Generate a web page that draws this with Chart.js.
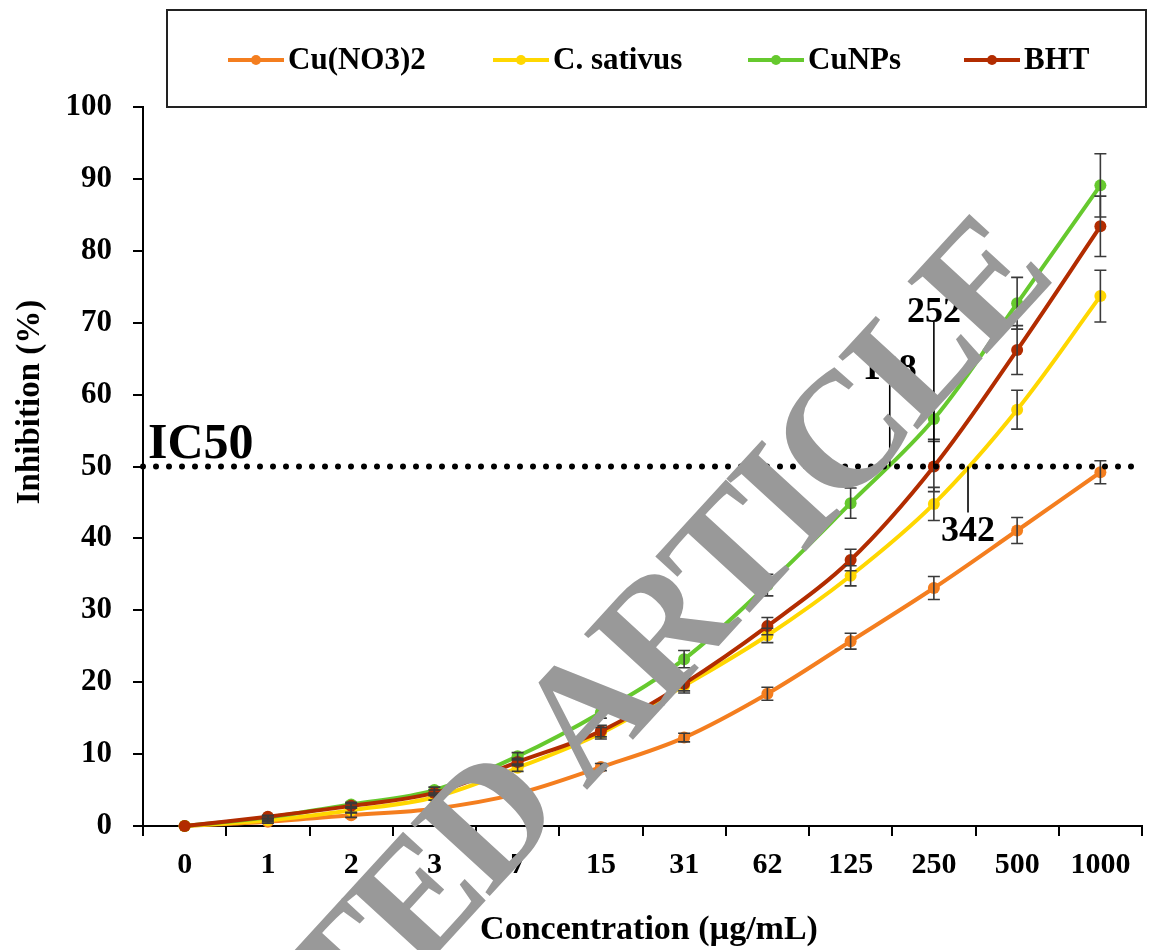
<!DOCTYPE html>
<html><head><meta charset="utf-8">
<script src="https://cdn.jsdelivr.net/npm/chart.js@4.4.1/dist/chart.umd.min.js"></script>
<style>html,body{margin:0;padding:0;background:#fff;}#wrap{width:1151px;height:950px;}</style>
</head><body><div id="wrap"><canvas id="c" width="1151" height="950"></canvas></div>
<script>
// ---- data ----
const concentrations = ['0','1','2','3','7','15','31','62','125','250','500','1000'];
const seriesNames = ['Cu(NO3)2','C. sativus','CuNPs','BHT'];
const cuNO3      = [0, 0.6, 1.5, 2.4, 4.5, 8.2, 12.3, 18.4, 25.7, 33.1, 41.1, 49.2];
const cuNO3Err   = [0, 0.2, 0.3, 0.3, 0.4, 0.5, 0.6, 0.9, 1.1, 1.6, 1.8, 1.6];
const cSativus   = [0, 0.8, 2.2, 4.0, 8.1, 12.9, 19.5, 26.5, 34.8, 44.8, 57.9, 73.7];
const cSativusErr= [0, 0.2, 0.3, 0.4, 0.5, 0.8, 1.0, 1.0, 1.4, 2.3, 2.7, 3.6];
const cuNPs      = [0, 1.2, 3.0, 5.0, 9.7, 15.8, 23.2, 33.5, 44.9, 56.6, 72.7, 89.1];
const cuNPsErr   = [0, 0.2, 0.3, 0.4, 0.5, 0.8, 1.2, 1.5, 2.1, 2.8, 3.6, 4.4];
const bht        = [0, 1.3, 2.8, 4.6, 8.9, 13.2, 19.8, 27.8, 37.0, 50.0, 66.2, 83.4];
const bhtErr     = [0, 0.2, 0.3, 0.4, 0.5, 0.8, 1.0, 1.2, 1.5, 3.5, 3.4, 4.2];
const ic50Level  = 50;
const ic50Values = ['188','252','342'];
const ic50Index  = [8.47, 9.0, 9.41];       // position along the concentration axis
const ic50LabelAt= [62.2, 70.1, 43.6];      // inhibition level where each label sits

const colors = ['#F47E1F','#FFD700','#66C92E','#B22C00'];
const serif = '"Liberation Serif", "Times New Roman", serif';

function ds(i, data, err){
  return {label: seriesNames[i], data, errors: err, borderColor: colors[i], backgroundColor: colors[i],
    borderWidth: 4, pointRadius: 6, pointBorderWidth: 0, pointHoverRadius: 6,
    tension: 0.35, order: 4 - i, clip: false};
}

const deco = {
  id: 'deco',
  afterDatasetsDraw(chart){
    const {ctx, chartArea: a, scales: {x, y}} = chart;
    ctx.save();
    // error bars
    ctx.strokeStyle = '#3a3a3a'; ctx.lineWidth = 1.6;
    chart.data.datasets.forEach(d => {
      d.data.forEach((v, j) => {
        const e = d.errors[j]; if (!e) return;
        const px = x.getPixelForValue(j), t = y.getPixelForValue(v + e), b = y.getPixelForValue(v - e);
        ctx.beginPath();
        ctx.moveTo(px, t); ctx.lineTo(px, b);
        ctx.moveTo(px - 6, t); ctx.lineTo(px + 6, t);
        ctx.moveTo(px - 6, b); ctx.lineTo(px + 6, b);
        ctx.stroke();
      });
    });
    // IC50 dotted line
    const yl = y.getPixelForValue(ic50Level);
    ctx.strokeStyle = '#000'; ctx.lineWidth = 6; ctx.lineCap = 'round';
    ctx.setLineDash([0, 13]);
    ctx.beginPath(); ctx.moveTo(a.left, yl); ctx.lineTo(a.right, yl); ctx.stroke();
    ctx.setLineDash([]); ctx.lineCap = 'butt';
    // IC50 text
    ctx.fillStyle = '#000';
    ctx.font = 'bold 50px ' + serif;
    ctx.textAlign = 'left'; ctx.textBaseline = 'alphabetic';
    ctx.fillText('IC50', a.left + 5, yl - 9);
    // IC50 value markers
    ctx.font = 'bold 36px ' + serif;
    ctx.lineWidth = 1.6; ctx.textAlign = 'center';
    ic50Values.forEach((t, k) => {
      const px = x.getPixelForValue(ic50Index[k]);
      const py = y.getPixelForValue(ic50LabelAt[k]);
      ctx.beginPath(); ctx.moveTo(px, yl); ctx.lineTo(px, py); ctx.stroke();
      if (py < yl) { ctx.textBaseline = 'alphabetic'; ctx.fillText(t, px, py); }
      else { ctx.textBaseline = 'top'; ctx.fillText(t, px, py + 1); }
    });
    ctx.restore();
  },
  afterDraw(chart){
    const {ctx} = chart;
    ctx.save();
    // legend box
    ctx.strokeStyle = '#222'; ctx.lineWidth = 2;
    ctx.strokeRect(167, 10, 979, 97);
    const starts = [228, 493, 748, 964];
    ctx.font = 'bold 31px ' + serif; ctx.textBaseline = 'middle'; ctx.textAlign = 'left';
    seriesNames.forEach((n, i) => {
      const sx = starts[i], cy = 60;
      ctx.strokeStyle = colors[i]; ctx.lineWidth = 4;
      ctx.beginPath(); ctx.moveTo(sx, cy); ctx.lineTo(sx + 56, cy); ctx.stroke();
      ctx.fillStyle = colors[i];
      ctx.beginPath(); ctx.arc(sx + 28, cy, 5, 0, Math.PI * 2); ctx.fill();
      ctx.fillStyle = '#000';
      ctx.fillText(n, sx + 60, cy + 1);
    });
    // axis titles
    ctx.fillStyle = '#000';
    ctx.font = 'bold 34px ' + serif; ctx.textAlign = 'center'; ctx.textBaseline = 'middle';
    ctx.fillText('Concentration (µg/mL)', 649, 930);
    ctx.save();
    ctx.translate(30, 402); ctx.rotate(-Math.PI / 2);
    ctx.font = 'bold 33px ' + serif;
    ctx.fillText('Inhibition (%)', 0, 0);
    ctx.restore();
    // watermark
    ctx.save();
    ctx.translate(586, 791); ctx.rotate(-47.5 * Math.PI / 180);
    ctx.fillStyle = '#999999';
    ctx.font = 'bold 164px ' + serif; ctx.textAlign = 'left'; ctx.textBaseline = 'alphabetic';
    if ('letterSpacing' in ctx) ctx.letterSpacing = '-7px';
    ctx.fillText('ARTICLE', 0, 0);
    const w = ctx.measureText('RETRACTED ').width;
    ctx.fillText('RETRACTED ', -w, 0);
    ctx.restore();
    ctx.restore();
  }
};

new Chart(document.getElementById('c'), {
  type: 'line',
  data: {
    labels: concentrations,
    datasets: [ds(0, cuNO3, cuNO3Err), ds(1, cSativus, cSativusErr), ds(2, cuNPs, cuNPsErr), ds(3, bht, bhtErr)]
  },
  options: {
    responsive: false, animation: false, devicePixelRatio: 1,
    layout: {padding: {top: 107, right: 9, left: 0, bottom: 0}},
    plugins: {legend: {display: false}, tooltip: {enabled: false}},
    scales: {
      x: {
        type: 'category', offset: true,
        grid: {display: true, drawOnChartArea: false, drawTicks: true, tickLength: 10, offset: true, color: '#000', lineWidth: 2},
        border: {display: true, color: '#000', width: 2},
        ticks: {color: '#000', font: {family: serif, size: 30, weight: 'bold'}, padding: 11, maxRotation: 0, autoSkip: false},
        afterFit(s){ s.height = 124; }
      },
      y: {
        min: 0, max: 100,
        grid: {drawOnChartArea: false, drawTicks: true, tickLength: 10, color: '#000', lineWidth: 2},
        border: {display: true, color: '#000', width: 2},
        ticks: {stepSize: 10, color: '#000', font: {family: serif, size: 31, weight: 'bold'}, padding: 21},
        afterFit(s){ s.width = 143; }
      }
    }
  },
  plugins: [deco]
});
</script></body></html>
